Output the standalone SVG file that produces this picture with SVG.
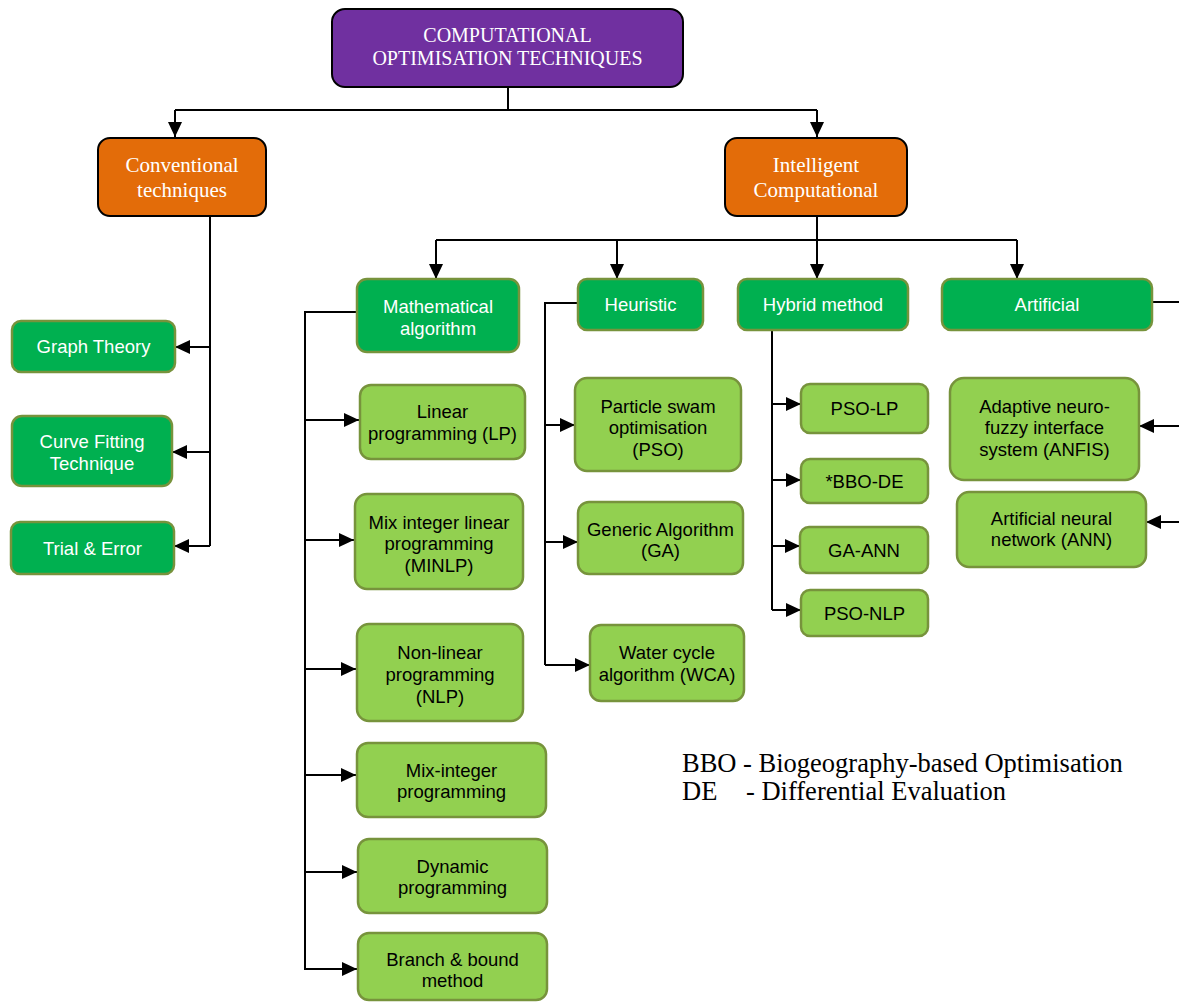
<svg xmlns="http://www.w3.org/2000/svg" width="1179" height="1002" viewBox="0 0 1179 1002">
<defs>
<marker id="arr" markerUnits="userSpaceOnUse" markerWidth="16" markerHeight="14" refX="15" refY="7" orient="auto">
<path d="M0,0 L15,7 L0,14 z" fill="#000"/>
</marker>
<style>
.top{fill:#7030A0;stroke:#000;stroke-width:2}
.mid{fill:#E36C09;stroke:#000;stroke-width:2}
.dk{fill:#00B050;stroke:#77933C;stroke-width:2.5}
.lt{fill:#92D050;stroke:#77933C;stroke-width:2.5}
.ts{font-family:"Liberation Serif","Times New Roman",serif;fill:#fff;text-anchor:middle}
.tw{font-family:"Liberation Sans",Arial,sans-serif;font-size:18.5px;fill:#fff;text-anchor:middle}
.tb{font-family:"Liberation Sans",Arial,sans-serif;font-size:18.5px;fill:#000;text-anchor:middle}
.c{fill:none;stroke:#000;stroke-width:2}
.a{fill:none;stroke:#000;stroke-width:2;marker-end:url(#arr)}
.leg{font-family:"Liberation Serif","Times New Roman",serif;font-size:26.5px;fill:#000}
</style>
</defs>
<g id="connectors">
<path class="c" d="M508,87 V110 M175,110 H817"/>
<path class="a" d="M175,110 V137"/>
<path class="a" d="M817,110 V137"/>
<path class="c" d="M210,216 V546"/>
<path class="a" d="M210,347 H175"/>
<path class="a" d="M210,452 H172"/>
<path class="a" d="M210,546 H174"/>
<path class="c" d="M817,216 V240 M436,240 H1017"/>
<path class="a" d="M436,240 V279"/>
<path class="a" d="M617,240 V279"/>
<path class="a" d="M817,240 V279"/>
<path class="a" d="M1017,240 V279"/>
<path class="c" d="M357,312 H305 V970"/>
<path class="a" d="M305,420 H359"/>
<path class="a" d="M305,540 H354"/>
<path class="a" d="M305,669 H356"/>
<path class="a" d="M305,775 H356"/>
<path class="a" d="M305,872 H357"/>
<path class="a" d="M305,969 H357"/>
<path class="c" d="M578,303 H545 V665"/>
<path class="a" d="M545,425 H575"/>
<path class="a" d="M545,542 H578"/>
<path class="a" d="M545,665 H590"/>
<path class="c" d="M772,330 V610"/>
<path class="a" d="M772,404 H801"/>
<path class="a" d="M772,480 H801"/>
<path class="a" d="M772,546 H800"/>
<path class="a" d="M772,610 H801"/>
<path class="c" d="M1152,302 H1179"/>
<path class="a" d="M1179,426 H1139"/>
<path class="a" d="M1179,522 H1146"/>
</g>
<g id="n-root"><rect class="top" x="332" y="9" width="351" height="78" rx="13"/>
<text class="ts" font-size="20" x="507.5" y="42">COMPUTATIONAL</text><text class="ts" font-size="20" x="507.5" y="65">OPTIMISATION TECHNIQUES</text></g>
<g id="n-conv"><rect class="mid" x="98" y="138" width="168" height="78" rx="12"/>
<text class="ts" font-size="21" x="182" y="172">Conventional</text><text class="ts" font-size="21" x="182" y="197">techniques</text></g>
<g id="n-intel"><rect class="mid" x="725" y="138" width="182" height="78" rx="12"/>
<text class="ts" font-size="21" x="816" y="172">Intelligent</text><text class="ts" font-size="21" x="816" y="197">Computational</text></g>
<g id="n-graph"><rect class="dk" x="12" y="321" width="163" height="51" rx="9"/>
<text class="tw" x="93.5" y="353">Graph Theory</text></g>
<g id="n-curve"><rect class="dk" x="12" y="416" width="160" height="70" rx="10"/>
<text class="tw" x="92" y="447.5">Curve Fitting</text><text class="tw" x="92" y="469.5">Technique</text></g>
<g id="n-trial"><rect class="dk" x="11" y="522" width="163" height="52" rx="9"/>
<text class="tw" x="92.5" y="554.5">Trial &amp; Error</text></g>
<g id="n-math"><rect class="dk" x="357" y="279" width="162" height="73" rx="10"/>
<text class="tw" x="438" y="312.5">Mathematical</text><text class="tw" x="438" y="334.5">algorithm</text></g>
<g id="n-heur"><rect class="dk" x="578" y="279" width="125" height="51" rx="9"/>
<text class="tw" x="640.5" y="311">Heuristic</text></g>
<g id="n-hybrid"><rect class="dk" x="738" y="279" width="170" height="51" rx="9"/>
<text class="tw" x="823" y="311">Hybrid method</text></g>
<g id="n-artif"><rect class="dk" x="942" y="279" width="210" height="51" rx="9"/>
<text class="tw" x="1047" y="311">Artificial</text></g>
<g id="n-lp"><rect class="lt" x="360" y="385" width="165" height="74" rx="11"/>
<text class="tb" x="442.5" y="417.5">Linear</text><text class="tb" x="442.5" y="439.5">programming (LP)</text></g>
<g id="n-minlp"><rect class="lt" x="355" y="494" width="168" height="95" rx="12"/>
<text class="tb" x="439" y="528.5">Mix integer linear</text><text class="tb" x="439" y="550">programming</text><text class="tb" x="439" y="571.5">(MINLP)</text></g>
<g id="n-nlp"><rect class="lt" x="357" y="624" width="166" height="97" rx="12"/>
<text class="tb" x="440" y="658.5">Non-linear</text><text class="tb" x="440" y="680.5">programming</text><text class="tb" x="440" y="702.5">(NLP)</text></g>
<g id="n-mixint"><rect class="lt" x="357" y="743" width="189" height="74" rx="11"/>
<text class="tb" x="451.5" y="776.5">Mix-integer</text><text class="tb" x="451.5" y="798">programming</text></g>
<g id="n-dyn"><rect class="lt" x="358" y="839" width="189" height="74" rx="11"/>
<text class="tb" x="452.5" y="872.5">Dynamic</text><text class="tb" x="452.5" y="894">programming</text></g>
<g id="n-bb"><rect class="lt" x="358" y="933" width="189" height="67" rx="11"/>
<text class="tb" x="452.5" y="965.5">Branch &amp; bound</text><text class="tb" x="452.5" y="987">method</text></g>
<g id="n-pso"><rect class="lt" x="575" y="378" width="166" height="93" rx="12"/>
<text class="tb" x="658" y="412.5">Particle swam</text><text class="tb" x="658" y="433.5">optimisation</text><text class="tb" x="658" y="455.5">(PSO)</text></g>
<g id="n-ga"><rect class="lt" x="578" y="502" width="165" height="72" rx="11"/>
<text class="tb" x="660.5" y="535.5">Generic Algorithm</text><text class="tb" x="660.5" y="557">(GA)</text></g>
<g id="n-wca"><rect class="lt" x="590" y="625" width="154" height="76" rx="11"/>
<text class="tb" x="667" y="658.5">Water cycle</text><text class="tb" x="667" y="680.5">algorithm (WCA)</text></g>
<g id="n-psolp"><rect class="lt" x="801" y="384" width="127" height="49" rx="9"/>
<text class="tb" x="864.5" y="415">PSO-LP</text></g>
<g id="n-bbode"><rect class="lt" x="801" y="459" width="127" height="44" rx="9"/>
<text class="tb" x="864.5" y="487.5">*BBO-DE</text></g>
<g id="n-gaann"><rect class="lt" x="800" y="527" width="128" height="46" rx="9"/>
<text class="tb" x="864" y="556.5">GA-ANN</text></g>
<g id="n-psonlp"><rect class="lt" x="801" y="590" width="127" height="46" rx="9"/>
<text class="tb" x="864.5" y="619.5">PSO-NLP</text></g>
<g id="n-anfis"><rect class="lt" x="950" y="378" width="189" height="102" rx="14"/>
<text class="tb" x="1044.5" y="412.5">Adaptive neuro-</text><text class="tb" x="1044.5" y="434">fuzzy interface</text><text class="tb" x="1044.5" y="455.5">system (ANFIS)</text></g>
<g id="n-ann"><rect class="lt" x="957" y="492" width="189" height="75" rx="12"/>
<text class="tb" x="1051.5" y="524.5">Artificial neural</text><text class="tb" x="1051.5" y="546">network (ANN)</text></g>
<g id="legend">
<text class="leg" x="682" y="772">BBO - Biogeography-based Optimisation</text>
<text class="leg" y="800"><tspan x="682">DE</tspan><tspan x="746">- Differential Evaluation</tspan></text>
</g>
</svg>
